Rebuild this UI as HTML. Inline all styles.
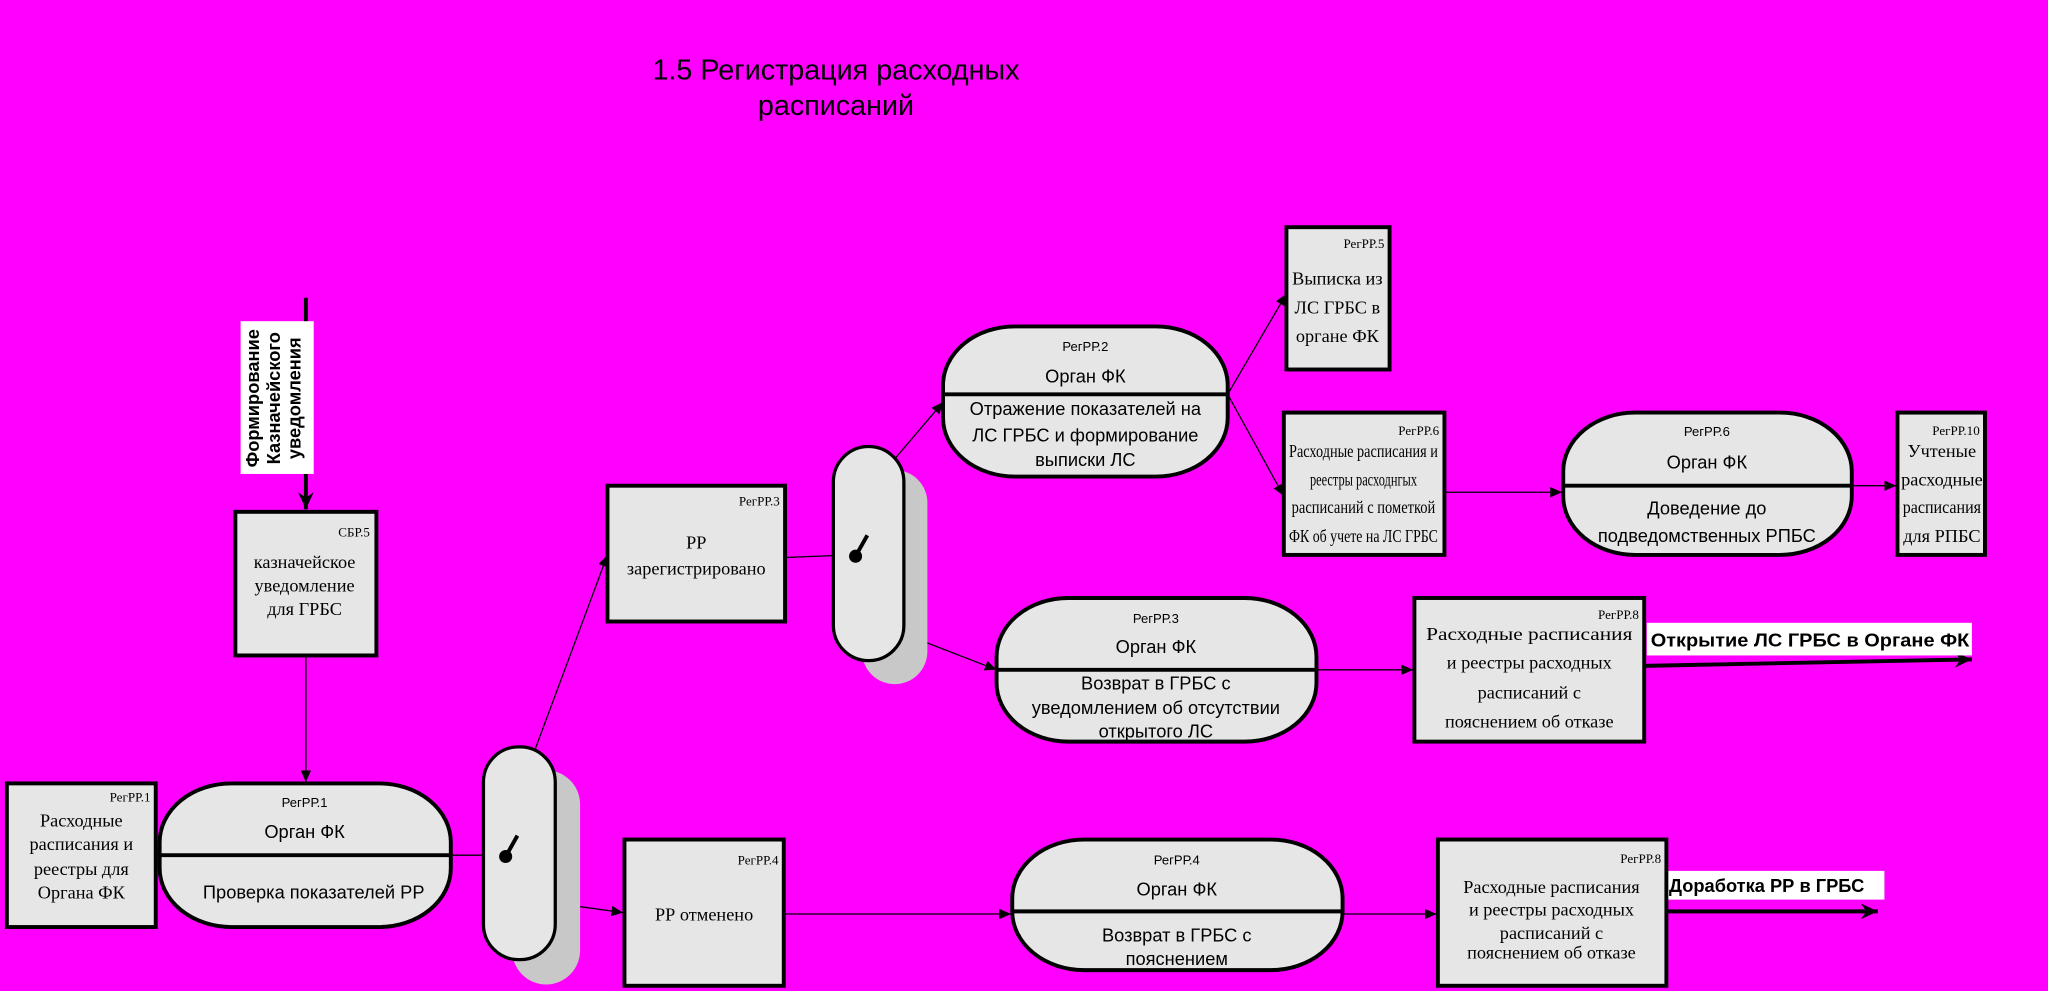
<!DOCTYPE html>
<html><head><meta charset="utf-8"><style>
html,body{margin:0;padding:0;background:#ff00ff;}
svg{display:block;}
.sn{font-family:"Liberation Sans",sans-serif;}
.sf{font-family:"Liberation Serif",serif;}
</style></head><body>
<svg width="2048" height="991" viewBox="0 0 1568 759" xmlns="http://www.w3.org/2000/svg">
<defs>
<marker id="a" markerWidth="10" markerHeight="10" refX="9" refY="5" orient="auto" markerUnits="userSpaceOnUse"><path d="M0,1 L9,5 L0,9 Z" fill="#000"/></marker>
<marker id="b" markerWidth="14" markerHeight="14" refX="13" refY="7" orient="auto" markerUnits="userSpaceOnUse"><path d="M0,1 L13,7 L0,13 L4,7 Z" fill="#000"/></marker>
</defs>
<rect width="1568" height="759" fill="#ff00ff"/>
<text class="sn" x="640" y="61" font-size="22" text-anchor="middle">1.5 Регистрация расходных</text>
<text class="sn" x="640" y="88" font-size="22" text-anchor="middle">расписаний</text>

<line x1="234" y1="228" x2="234" y2="390" stroke="#000" stroke-width="3" marker-end="url(#b)"/>
<rect x="184" y="246" width="56" height="117" fill="#fff"/>
<g transform="translate(212,305) rotate(-90)" class="sn" font-size="14" font-weight="bold" text-anchor="middle">
<text x="0" y="-14">Формирование</text><text x="0" y="2">Казначейского</text><text x="0" y="18">уведомления</text></g>

<g stroke="#000" stroke-width="1">
<line x1="234" y1="502" x2="234" y2="599" marker-end="url(#a)"/>
<line x1="119" y1="655" x2="122" y2="655" marker-end="url(#a)"/>
<line x1="345" y1="655" x2="385" y2="655" marker-end="url(#a)"/>
<line x1="398" y1="605" x2="465" y2="425" marker-end="url(#a)"/>
<line x1="398" y1="688" x2="477" y2="699" marker-end="url(#a)"/>
<line x1="601" y1="427" x2="652" y2="425" marker-end="url(#a)"/>
<line x1="665" y1="375" x2="722" y2="308" marker-end="url(#a)"/>
<line x1="665" y1="475" x2="763" y2="513" marker-end="url(#a)"/>
<line x1="940" y1="302" x2="985" y2="225" marker-end="url(#a)"/>
<line x1="940" y1="302" x2="983" y2="380" marker-end="url(#a)"/>
<line x1="1106" y1="377" x2="1196" y2="377" marker-end="url(#a)"/>
<line x1="1418" y1="372" x2="1452" y2="372" marker-end="url(#a)"/>
<line x1="1008" y1="513" x2="1082" y2="513" marker-end="url(#a)"/>
<line x1="600" y1="700" x2="774" y2="700" marker-end="url(#a)"/>
<line x1="1028" y1="700" x2="1100" y2="700" marker-end="url(#a)"/>
</g>
<line x1="1259" y1="510" x2="1510" y2="505" stroke="#000" stroke-width="3" marker-end="url(#b)"/>
<line x1="1276" y1="698" x2="1438" y2="698" stroke="#000" stroke-width="3" marker-end="url(#b)"/>
<rect x="1261" y="477" width="249" height="25" fill="#fff"/>
<text class="sn" x="1264" y="495" font-size="14" font-weight="bold" textLength="244" lengthAdjust="spacingAndGlyphs">Открытие ЛС ГРБС в Органе ФК</text>
<rect x="1277" y="667" width="166" height="22" fill="#fff"/>
<text class="sn" x="1278" y="683" font-size="14" font-weight="bold">Доработка РР в ГРБС</text>

<rect x="392" y="590" width="52" height="164" rx="26" fill="#c8c8c8"/>
<rect x="370" y="572" width="55" height="163" rx="27" fill="#e6e6e6" stroke="#000" stroke-width="2.5"/>
<circle cx="387" cy="656" r="5" fill="#000"/><line x1="387" y1="656" x2="396" y2="640" stroke="#000" stroke-width="3"/>
<rect x="660" y="360" width="50" height="164" rx="25" fill="#c8c8c8"/>
<rect x="638" y="342" width="54" height="164" rx="27" fill="#e6e6e6" stroke="#000" stroke-width="2.5"/>
<circle cx="655" cy="426" r="5" fill="#000"/><line x1="655" y1="426" x2="664" y2="410" stroke="#000" stroke-width="3"/>

<g fill="#e6e6e6" stroke="#000" stroke-width="3">
<rect x="5" y="600" width="114" height="110"/>
<rect x="180" y="392" width="108" height="110"/>
<rect x="465" y="372" width="136" height="104"/>
<rect x="478" y="643" width="122" height="112"/>
<rect x="985" y="174" width="79" height="109"/>
<rect x="983" y="316" width="123" height="109"/>
<rect x="1453" y="316" width="67" height="109"/>
<rect x="1083" y="458" width="176" height="110"/>
<rect x="1101" y="643" width="175" height="112"/>
<rect x="122" y="600" width="223" height="110" rx="55" ry="45"/>
<rect x="722" y="250" width="218" height="115" rx="55" ry="45"/>
<rect x="1197" y="316" width="221" height="109" rx="55" ry="45"/>
<rect x="763" y="458" width="245" height="110" rx="55" ry="45"/>
<rect x="775" y="643" width="253" height="100" rx="55" ry="45"/>
</g>
<g stroke="#000" stroke-width="3">
<line x1="122" y1="655" x2="345" y2="655"/>
<line x1="722" y1="302" x2="940" y2="302"/>
<line x1="1197" y1="372" x2="1418" y2="372"/>
<line x1="763" y1="513" x2="1008" y2="513"/>
<line x1="775" y1="698" x2="1028" y2="698"/>
</g>

<g class="sn" text-anchor="middle">
<text x="233" y="618" font-size="10">РегРР.1</text><text x="233" y="642" font-size="14">Орган ФК</text><text x="240" y="688" font-size="14">Проверка показателей РР</text>
<text x="831" y="269" font-size="10">РегРР.2</text><text x="831" y="293" font-size="14">Орган ФК</text>
<text x="831" y="318" font-size="14">Отражение показателей на</text><text x="831" y="338" font-size="14">ЛС ГРБС и формирование</text><text x="831" y="357" font-size="14">выписки ЛС</text>
<text x="1307" y="334" font-size="10">РегРР.6</text><text x="1307" y="359" font-size="14">Орган ФК</text>
<text x="1307" y="394" font-size="14">Доведение до</text><text x="1307" y="415" font-size="14">подведомственных РПБС</text>
<text x="885" y="477" font-size="10">РегРР.3</text><text x="885" y="500" font-size="14">Орган ФК</text>
<text x="885" y="528" font-size="14">Возврат в ГРБС с</text><text x="885" y="547" font-size="14">уведомлением об отсутствии</text><text x="885" y="565" font-size="14">открытого ЛС</text>
<text x="901" y="662" font-size="10">РегРР.4</text><text x="901" y="686" font-size="14">Орган ФК</text>
<text x="901" y="721" font-size="14">Возврат в ГРБС с</text><text x="901" y="739" font-size="14">пояснением</text>
</g>
<g class="sf" font-size="14" text-anchor="middle">
<text x="115" y="614" font-size="10" text-anchor="end">РегРР.1</text>
<text x="62" y="633">Расходные</text><text x="62" y="651">расписания и</text><text x="62" y="670">реестры для</text><text x="62" y="688">Органа ФК</text>
<text x="283" y="411" font-size="10" text-anchor="end">СБР.5</text>
<text x="233" y="435">казначейское</text><text x="233" y="453">уведомление</text><text x="233" y="471">для ГРБС</text>
<text x="597" y="387" font-size="10" text-anchor="end">РегРР.3</text>
<text x="533" y="420">РР</text><text x="533" y="440">зарегистрировано</text>
<text x="596" y="662" font-size="10" text-anchor="end">РегРР.4</text>
<text x="539" y="705">РР отменено</text>
<text x="1060" y="190" font-size="10" text-anchor="end">РегРР.5</text>
<text x="1024" y="218">Выписка из</text><text x="1024" y="240">ЛС ГРБС в</text><text x="1024" y="262">органе ФК</text>
<text x="1102" y="333" font-size="10" text-anchor="end">РегРР.6</text>
<text x="1044" y="350" textLength="114" lengthAdjust="spacingAndGlyphs">Расходные расписания и</text><text x="1044" y="372" textLength="82" lengthAdjust="spacingAndGlyphs">реестры расходнгых</text><text x="1044" y="393" textLength="110" lengthAdjust="spacingAndGlyphs">расписаний с пометкой</text><text x="1044" y="415" textLength="114" lengthAdjust="spacingAndGlyphs">ФК об учете на ЛС ГРБС</text>
<text x="1516" y="333" font-size="10" text-anchor="end">РегРР.10</text>
<text x="1487" y="350">Учтеные</text><text x="1487" y="372">расходные</text><text x="1487" y="393" textLength="60" lengthAdjust="spacingAndGlyphs">расписания</text><text x="1487" y="415">для РПБС</text>
<text x="1255" y="474" font-size="10" text-anchor="end">РегРР.8</text>
<text x="1171" y="490" textLength="158" lengthAdjust="spacingAndGlyphs">Расходные расписания</text><text x="1171" y="512">и реестры расходных</text><text x="1171" y="535">расписаний с</text><text x="1171" y="557">пояснением об отказе</text>
<text x="1272" y="661" font-size="10" text-anchor="end">РегРР.8</text>
<text x="1188" y="684">Расходные расписания</text><text x="1188" y="701">и реестры расходных</text><text x="1188" y="719">расписаний с</text><text x="1188" y="734">пояснением об отказе</text>
</g>
</svg>
</body></html>
